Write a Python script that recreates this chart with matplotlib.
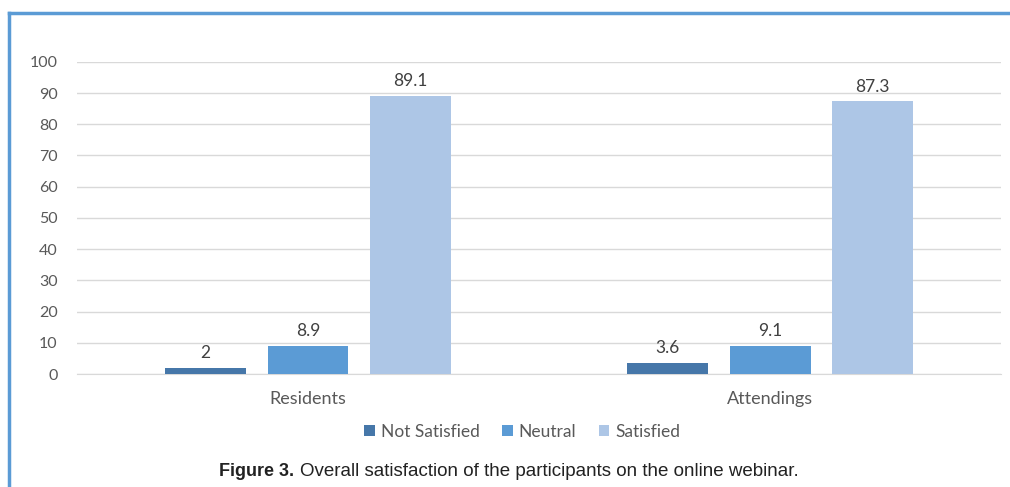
import numpy as np
import matplotlib.pyplot as plt
from matplotlib.lines import Line2D

# data
groups = ["Residents", "Attendings"]
series = ["Not Satisfied", "Neutral", "Satisfied"]
not_satisfied = [2, 3.6]
neutral = [8.9, 9.1]
satisfied = [89.1, 87.3]
colors = ["#4677A9", "#5B9BD5", "#ADC6E6"]

plt.rcParams['font.family'] = ['Lato', 'DejaVu Sans']

fig = plt.figure(figsize=(10.1, 4.87), dpi=100)
ax = fig.add_axes([0.0762, 0.232, 0.915, 0.641])

x = np.arange(len(groups))
width = 0.175
offset = 0.222
for i, (vals, name) in enumerate(zip([not_satisfied, neutral, satisfied], series)):
    pos = x + (i - 1) * offset
    ax.bar(pos, vals, width, color=colors[i], label=name, zorder=3)
    for p, v in zip(pos, vals):
        ax.annotate(f"{v:g}", (p, v), xytext=(0, 5), textcoords="offset points",
                    ha="center", va="bottom", fontsize=12.5, color="#404040")

ax.set_xlim(-0.5, 1.5)
ax.set_ylim(0, 100)
ax.set_yticks(range(0, 101, 10))
ax.set_xticks(x)
ax.set_xticklabels(groups)
ax.yaxis.grid(True, color="#D9D9D9", linewidth=1, zorder=0)
for s in ["top", "right", "left"]:
    ax.spines[s].set_visible(False)
ax.spines["bottom"].set_color("#D9D9D9")
ax.tick_params(axis="y", length=0, labelsize=11.5, labelcolor="#595959", pad=14)
ax.tick_params(axis="x", length=0, labelsize=13, labelcolor="#595959", pad=12)

leg = ax.legend(loc="center", bbox_to_anchor=(0.482, -0.186), ncol=3, frameon=False,
                fontsize=12.5, handlelength=0.6, handleheight=0.6, handletextpad=0.35,
                columnspacing=1.3, labelcolor="#595959")

# blue frame on top and left
fig.add_artist(Line2D([0.009, 1.0], [0.973, 0.973], color="#5B9BD5", lw=2.5,
                      transform=fig.transFigure))
fig.add_artist(Line2D([0.009, 0.009], [0.0, 0.973], color="#5B9BD5", lw=2.5,
                      transform=fig.transFigure))

# caption
fig.text(0.291, 0.023, "Figure 3.", fontsize=13, fontweight="bold", ha="right",
         family="Liberation Sans", color="#222222", va="baseline")
fig.text(0.297, 0.023, "Overall satisfaction of the participants on the online webinar.",
         fontsize=13.5, family="Liberation Sans", color="#222222", va="baseline")

fig.savefig("out.png", dpi=100)
